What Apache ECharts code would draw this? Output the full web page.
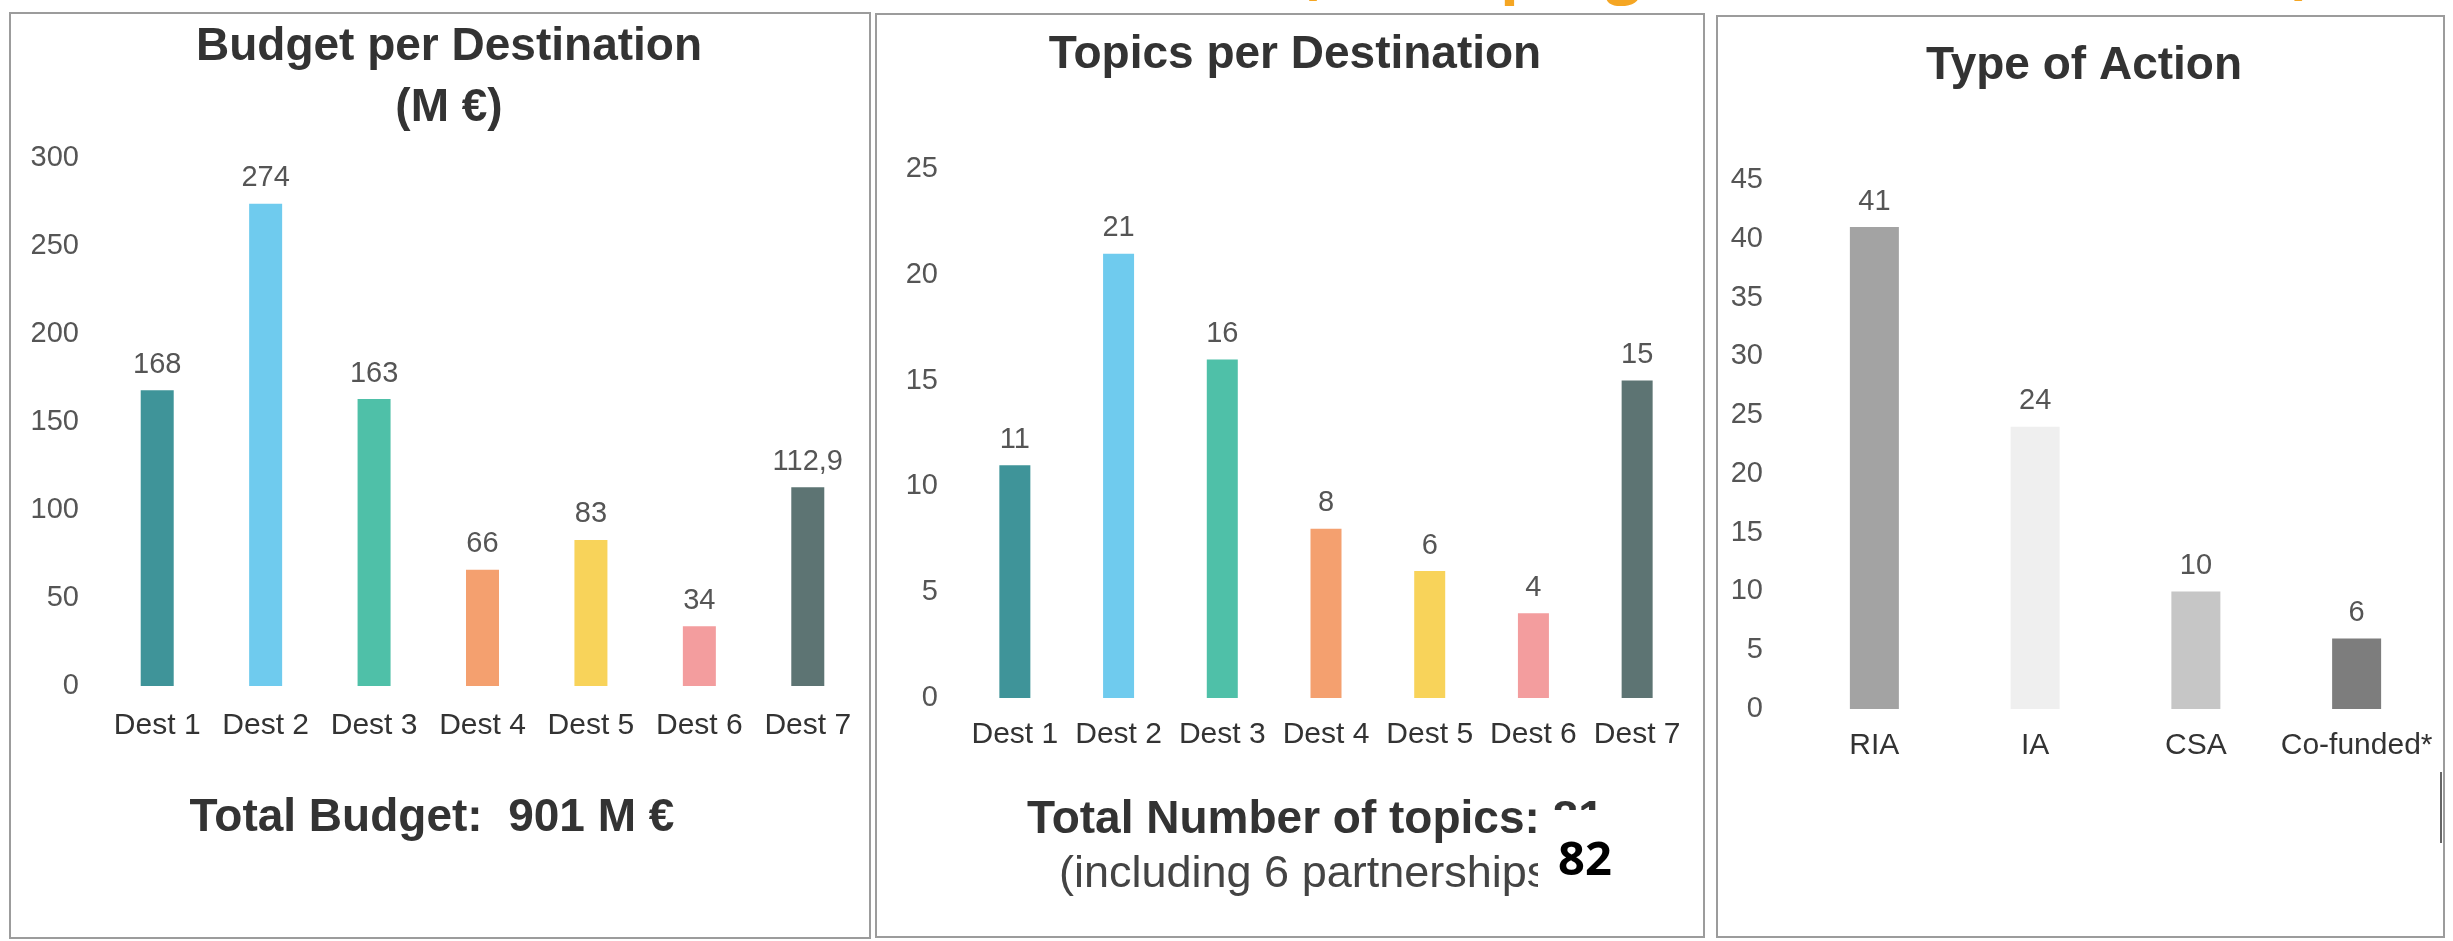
<!DOCTYPE html>
<html>
<head>
<meta charset="utf-8">
<script src="https://cdn.jsdelivr.net/npm/echarts@6/dist/echarts.min.js"></script>
<style>
html,body{margin:0;padding:0;background:#fff;}
#c{width:2453px;height:941px;}
</style>
</head>
<body>
<div id="c"></div>
<script>
// ---- data ----
const destCategories = ['Dest 1','Dest 2','Dest 3','Dest 4','Dest 5','Dest 6','Dest 7'];
const budgetValues = [168, 274, 163, 66, 83, 34, 112.9];
const topicValues = [11, 21, 16, 8, 6, 4, 15];
const actionCategories = ['RIA','IA','CSA','Co-funded*'];
const actionValues = [41, 24, 10, 6];
const budgetTicks = {min: 0, max: 300, interval: 50};
const topicTicks = {min: 0, max: 25, interval: 5};
const actionTicks = {min: 0, max: 45, interval: 5};

// ---- styles ----
const destColors = ['#3f9499','#6fcbee','#4fc0a8','#f4a06f','#f8d35a','#f39d9e','#5d7473'];
const actionColors = ['#a3a3a3','#efefef','#c6c6c6','#7d7d7d'];
const FONT = '"Liberation Sans", Arial, sans-serif';

function items(values, colors){
  return values.map((v,i)=>({value:v, itemStyle:{color:colors[i]}}));
}

const chart = echarts.init(document.getElementById('c'), null, {renderer:'canvas'});

function yAx(idx, t, margin){
  return {gridIndex: idx, type:'value', min:t.min, max:t.max, interval:t.interval,
    axisLine:{show:false}, axisTick:{show:false}, splitLine:{show:false},
    axisLabel:{fontSize:29, color:'#555', fontFamily:FONT, margin:margin}};
}
function xAx(idx, cats, margin){
  return {gridIndex: idx, type:'category', data:cats,
    axisLine:{show:false}, axisTick:{show:false}, splitLine:{show:false},
    axisLabel:{fontSize:30, color:'#333', fontFamily:FONT, margin:margin, interval:0}};
}
function valLabel(fmt){
  return {show:true, position:'top', distance:11, fontSize:29, color:'#555', fontFamily:FONT,
    formatter: fmt || (p=>String(p.value))};
}

const boldT = (txt, x, y, size, align) => ({type:'text', z:10,
  style:{text:txt, x:x, y:y, fill:'#333', font:'bold '+size+'px '+FONT,
  textAlign:align||'center', textVerticalAlign:'middle', verticalAlign:'middle'}});
const regT = (txt, x, y, size, align) => ({type:'text', z:10,
  style:{text:txt, x:x, y:y, fill:'#444', font:size+'px '+FONT,
  textAlign:align||'center', textVerticalAlign:'middle', verticalAlign:'middle'}});

const option = {
  backgroundColor:'#fff',
  animation:false,
  grid:[
    {left:103, top:158, width:759, height:528, containLabel:false},
    {left:963, top:169, width:726, height:529, containLabel:false},
    {left:1794, top:180, width:643, height:529, containLabel:false}
  ],
  xAxis:[ xAx(0, destCategories, 25), xAx(1, destCategories, 22), xAx(2, actionCategories, 22) ],
  yAxis:[ yAx(0, budgetTicks, 24), yAx(1, topicTicks, 25), yAx(2, actionTicks, 31) ],
  series:[
    {type:'bar', xAxisIndex:0, yAxisIndex:0, barWidth:33, data:items(budgetValues, destColors),
      label: valLabel(p=>String(p.value).replace('.', ','))},
    {type:'bar', xAxisIndex:1, yAxisIndex:1, barWidth:31, data:items(topicValues, destColors),
      label: valLabel()},
    {type:'bar', xAxisIndex:2, yAxisIndex:2, barWidth:49, data:items(actionValues, actionColors),
      label: valLabel()}
  ],
  graphic:[
    // panel frames
    {type:'rect', shape:{x:10, y:13, width:860, height:925}, style:{fill:'none', stroke:'#9c9c9c', lineWidth:2}, z:1},
    {type:'rect', shape:{x:876, y:14, width:828, height:923}, style:{fill:'none', stroke:'#9c9c9c', lineWidth:2}, z:1},
    {type:'rect', shape:{x:1717, y:16, width:727, height:921}, style:{fill:'none', stroke:'#9c9c9c', lineWidth:2}, z:1},
    {type:'line', shape:{x1:2441, y1:772, x2:2441, y2:843}, style:{stroke:'#666', lineWidth:2}, z:2},
    // orange header text (cut off at the top edge of the picture)
    {type:'text', z:10, style:{text:'(Work programme  2021  –  2022 )', x:1298, y:-27, fill:'#f5a623',
      font:'bold 62px "Open Sans", sans-serif', textAlign:'left', textVerticalAlign:'middle', verticalAlign:'middle'}},
    // titles
    boldT('Budget per Destination', 449, 47, 46),
    boldT('(M €)', 449, 108, 46),
    boldT('Topics per Destination', 1295, 55, 46),
    boldT('Type of Action', 2084, 66, 46),
    // footers
    boldT('Total Budget:  901 M €', 432, 818, 46),
    boldT('Total Number of topics: 81', 1027, 820, 46, 'left'),
    regT('(including 6 partnerships)', 1059, 875, 45, 'left'),
    {type:'rect', z:20, shape:{x:1538, y:810, width:84, height:92}, style:{fill:'#fff'}},
    {type:'text', z:21, style:{text:'82', x:1585, y:862, fill:'#000',
      font:'bold 47px "Noto Sans", sans-serif', textAlign:'center', textVerticalAlign:'middle', verticalAlign:'middle'}}
  ]
};
chart.setOption(option);
</script>
</body>
</html>
